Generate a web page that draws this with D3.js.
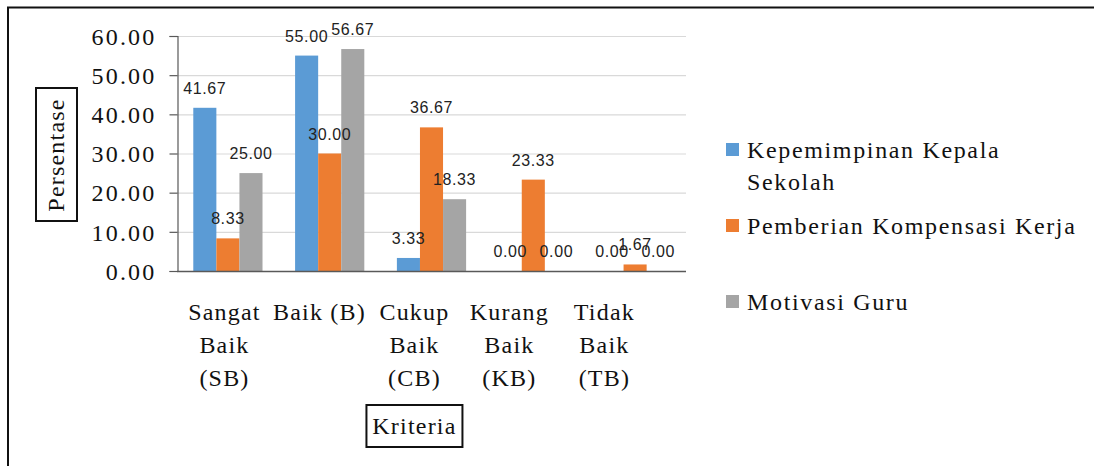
<!DOCTYPE html>
<html>
<head>
<meta charset="utf-8">
<script src="https://cdn.jsdelivr.net/npm/d3@7"></script>
<style>
  html, body { margin: 0; padding: 0; background: #fff; }
  svg { display: block; }
  .serif { font-family: "Liberation Serif", "Times New Roman", serif; }
  .sans { font-family: "Liberation Sans", Arial, sans-serif; }
</style>
</head>
<body>
<svg id="chart" width="1094" height="466"></svg>
<script>
// Categories (multi-line labels) and series values in percent
const categories = ["SB", "B", "CB", "KB", "TB"];
const categoryLines = [
  ["Sangat", "Baik", "(SB)"],
  ["Baik (B)"],
  ["Cukup", "Baik", "(CB)"],
  ["Kurang", "Baik", "(KB)"],
  ["Tidak", "Baik", "(TB)"]
];
const seriesNames = ["Kepemimpinan Kepala Sekolah", "Pemberian Kompensasi Kerja", "Motivasi Guru"];
const legendLines = [["Kepemimpinan Kepala", "Sekolah"], ["Pemberian Kompensasi Kerja"], ["Motivasi Guru"]];
const kepemimpinan = [41.67, 55.00, 3.33, 0.00, 0.00];
const kompensasi = [8.33, 30.00, 36.67, 23.33, 1.67];
const motivasi = [25.00, 56.67, 18.33, 0.00, 0.00];
const seriesColors = ["#5B9BD5", "#ED7D31", "#A5A5A5"];
const yTicks = [0, 10, 20, 30, 40, 50, 60];

const series = [kepemimpinan, kompensasi, motivasi];

const svg = d3.select("#chart");

// outer frame (only top and left edges fall inside the canvas)
svg.append("rect")
  .attr("x", 8).attr("y", 7.5).attr("width", 1200).attr("height", 600)
  .attr("fill", "none").attr("stroke", "#111").attr("stroke-width", 2);

const plot = { left: 177, right: 686, top: 36, bottom: 271 };

const x = d3.scaleBand().domain(categories)
  .range([plot.left, plot.right]).paddingInner(0.32).paddingOuter(0.16);
const xs = d3.scaleBand().domain(d3.range(series.length))
  .range([0, x.bandwidth()]);
const y = d3.scaleLinear().domain([0, 60]).range([plot.bottom, plot.top]);

// gridlines
svg.append("g").selectAll("line").data(yTicks.filter(d => d > 0)).join("line")
  .attr("x1", plot.left).attr("x2", plot.right)
  .attr("y1", d => y(d) + 0.5).attr("y2", d => y(d) + 0.5)
  .attr("stroke", "#d9d9d9").attr("stroke-width", 1.2);

// y axis
const yAxis = svg.append("g")
  .attr("transform", `translate(${plot.left + 0.5},0)`)
  .call(d3.axisLeft(y).tickValues(yTicks).tickFormat(d3.format(".2f")).tickSizeOuter(0).tickSize(8).tickPadding(13));
yAxis.attr("font-family", null).attr("font-size", null);
yAxis.select(".domain").attr("stroke", "#595959").attr("stroke-width", 1.2);
yAxis.selectAll(".tick line").attr("stroke", "#595959").attr("stroke-width", 1.2);
yAxis.selectAll(".tick text")
  .attr("class", "serif")
  .style("font-size", "24px")
  .attr("fill", "#111").attr("letter-spacing", 2.2).attr("dy", "0.34em");

// bars
const groups = svg.append("g").selectAll("g").data(series).join("g")
  .attr("fill", (d, i) => seriesColors[i]);
groups.each(function (vals, si) {
  d3.select(this).selectAll("rect").data(vals).join("rect")
    .attr("x", (d, ci) => x(categories[ci]) + xs(si))
    .attr("width", xs.bandwidth())
    .attr("y", d => y(d))
    .attr("height", d => y(0) - y(d));
});

// x axis baseline
svg.append("line")
  .attr("x1", plot.left).attr("x2", plot.right)
  .attr("y1", plot.bottom + 0.5).attr("y2", plot.bottom + 0.5)
  .attr("stroke", "#595959").attr("stroke-width", 1.5);

// data labels
series.forEach((vals, si) => {
  svg.append("g").selectAll("text").data(vals).join("text")
    .attr("class", "sans")
    .attr("x", (d, ci) => x(categories[ci]) + xs(si) + xs.bandwidth() / 2)
    .attr("y", d => y(d) - 14)
    .attr("text-anchor", "middle")
    .style("font-size", "16px").attr("letter-spacing", 0.6)
    .attr("fill", "#222")
    .text(d => d3.format(".2f")(d));
});

// category labels (wrapped text laid out on a slightly narrower band)
const xl = d3.scaleBand().domain(categories)
  .range([plot.left, plot.left + (plot.right - plot.left) * 0.933]);
const catText = svg.append("g").selectAll("text").data(categoryLines).join("text")
  .attr("class", "serif").style("font-size", "24px").attr("fill", "#111")
  .attr("text-anchor", "middle").attr("letter-spacing", 1.2);
catText.each(function (lines, i) {
  d3.select(this).selectAll("tspan").data(lines).join("tspan")
    .attr("x", xl(categories[i]) + xl.bandwidth() / 2)
    .attr("y", (d, k) => 320 + k * 33)
    .text(d => d);
});

// x axis title in a box
const xTitleX = xl(categories[2]) + xl.bandwidth() / 2;
svg.append("rect").attr("x", xTitleX - 48).attr("y", 405).attr("width", 96).attr("height", 42)
  .attr("fill", "none").attr("stroke", "#111").attr("stroke-width", 2);
svg.append("text").attr("x", xTitleX).attr("y", 434)
  .attr("text-anchor", "middle").attr("class", "serif").style("font-size", "24px")
  .attr("letter-spacing", 1.2).attr("fill", "#111").text("Kriteria");

// y axis title in a box
svg.append("rect").attr("x", 36).attr("y", 88).attr("width", 41).attr("height", 133)
  .attr("fill", "none").attr("stroke", "#111").attr("stroke-width", 2);
svg.append("text").attr("transform", "translate(64,155) rotate(-90)")
  .attr("text-anchor", "middle").attr("class", "serif").style("font-size", "24px")
  .attr("letter-spacing", 1.2).attr("fill", "#111").text("Persentase");

// legend
const legendBaselines = [158, 234, 310];
const legend = svg.append("g").selectAll("g").data(seriesNames).join("g");
legend.append("rect")
  .attr("x", 726).attr("y", (d, i) => legendBaselines[i] - 15)
  .attr("width", 13).attr("height", 13)
  .attr("fill", (d, i) => seriesColors[i]);
legend.append("text")
  .attr("class", "serif").style("font-size", "24px").attr("fill", "#111").attr("letter-spacing", 1.65)
  .each(function (d, i) {
    d3.select(this).selectAll("tspan").data(legendLines[i]).join("tspan")
      .attr("x", 747).attr("y", (t, k) => legendBaselines[i] + k * 32)
      .text(t => t);
  });
</script>
</body>
</html>
